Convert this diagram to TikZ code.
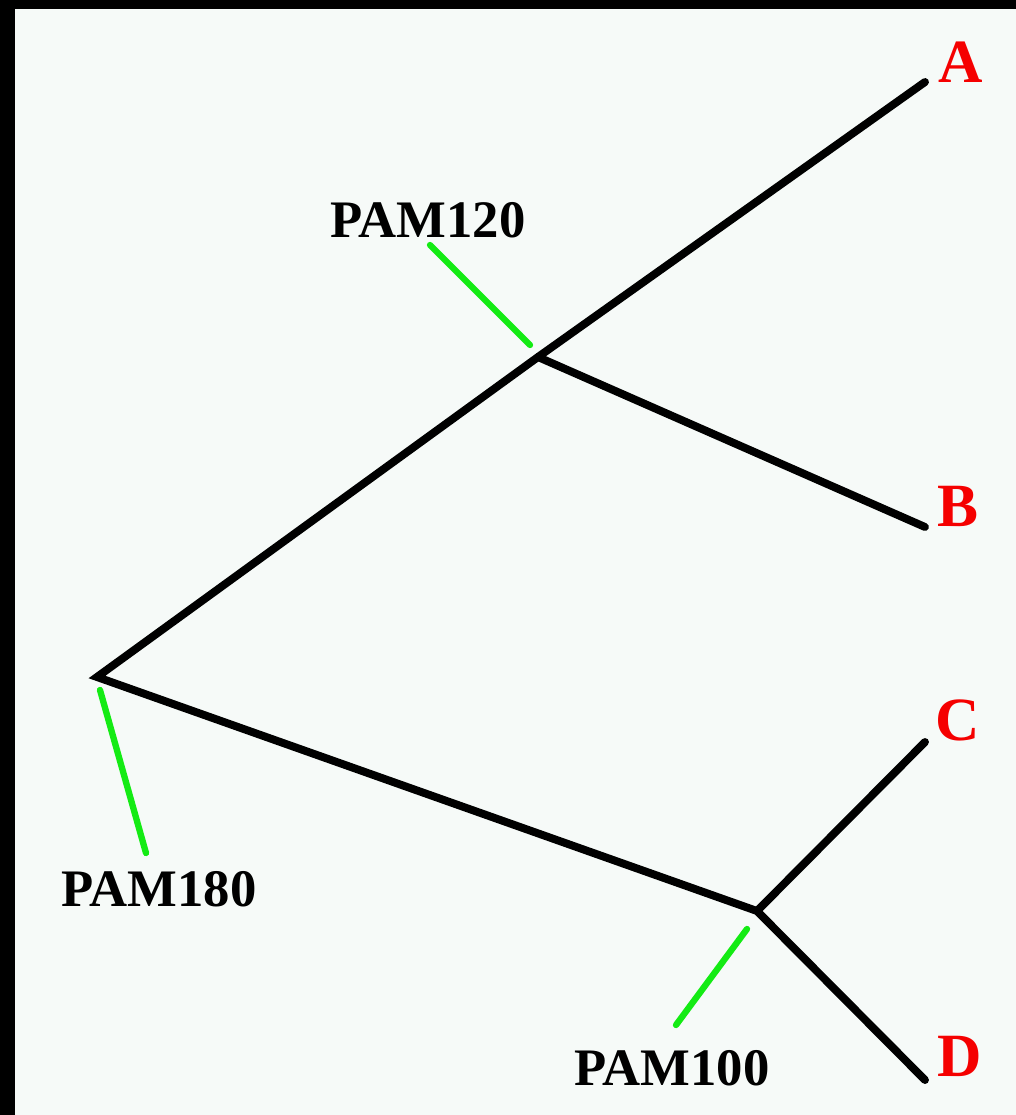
\documentclass[tikz,border=0pt]{standalone}
\usepackage{fontspec}
\setmainfont{Liberation Serif}
\usepackage{tikz}
\usetikzlibrary{positioning,calc}
\usepackage{xcolor}
\definecolor{framebg}{RGB}{246,250,248}
\definecolor{pamgreen}{RGB}{20,235,20}
\definecolor{leafred}{RGB}{245,0,0}
\tikzset{
  branch/.style={draw=black,line width=4.5pt,line cap=round,line join=miter},
  pamtick/.style={draw=pamgreen,line width=3.6pt,line cap=round},
  pamlabel/.style={inner sep=0pt,font=\fontsize{30}{30}\selectfont\bfseries,text=black},
  leaflabel/.style={inner sep=0pt,font=\fontsize{35}{35}\selectfont\bfseries,text=leafred},
}
\begin{document}
\begin{tikzpicture}[x=0.02cm,y=-0.02cm]
  % frame and background
  \fill[black] (0,0) rectangle (1016,1115);
  \fill[framebg] (15,9) rectangle (1016,1115);
  \useasboundingbox (0,0) rectangle (1016,1115);
  % tree
  \coordinate (root) at (97,677);
  \coordinate (ab) at (538,357);
  \coordinate (cd) at (757,911);
  \coordinate (a) at (925,82);
  \coordinate (b) at (925,527);
  \coordinate (c) at (925,742);
  \coordinate (d) at (925,1080);
  \draw[branch] (a) -- (ab) -- (root) -- (cd) -- (d);
  \draw[branch] (ab) -- (b);
  \draw[branch] (cd) -- (c);
  \node[leaflabel] (la) at (961,62) {A};
  \node[leaflabel] (lb) at (958,506) {B};
  \node[leaflabel] (lc) at (958,720) {C};
  \node[leaflabel] (ld) at (960,1056) {D};
  % PAM distances
  \node[pamlabel] (p120) at (428,220) {PAM120};
  \node[pamlabel] (p180) at (159,889) {PAM180};
  \node[pamlabel] (p100) at (672,1068) {PAM100};
  \coordinate (t120) at (430,245);
  \coordinate (t180) at (146,853);
  \coordinate (t100) at (676,1025);
  \draw[pamtick] (t120) -- (530,345);
  \draw[pamtick] (t180) -- (100,690);
  \draw[pamtick] (t100) -- (747,929);
\end{tikzpicture}
\end{document}
